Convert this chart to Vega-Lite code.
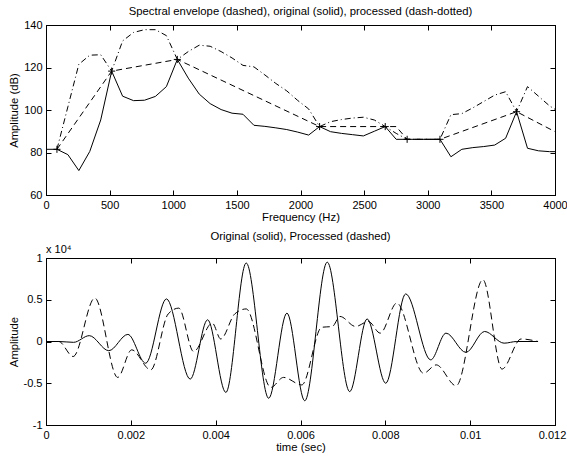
{
  "$schema": "https://vega.github.io/schema/vega-lite/v6.json",
  "background": "white",
  "padding": {"left": 7, "top": 5, "right": 0, "bottom": 3},
  "spacing": 7,
  "config": {
    "font": "Liberation Sans",
    "view": {"stroke": "black", "strokeWidth": 1},
    "axis": {
      "grid": false,
      "domainColor": "black",
      "tickColor": "black",
      "labelColor": "black",
      "titleColor": "black",
      "labelFont": "Liberation Sans",
      "titleFont": "Liberation Sans",
      "labelFontSize": 11,
      "titleFontSize": 11.3,
      "titleFontWeight": "normal",
      "tickSize": -5,
      "labelPadding": 9,
      "labelFlush": false,
      "labelOverlap": false
    },
    "title": {"font": "Liberation Sans", "fontSize": 11.3, "fontWeight": "normal", "color": "black", "offset": 2}
  },
  "datasets": {
    "orig": [
      {"f": 0, "db": 81.5}, {"f": 86, "db": 81.5}, {"f": 172, "db": 79}, {"f": 258, "db": 71.5},
      {"f": 344, "db": 80.5}, {"f": 430, "db": 95.3}, {"f": 516, "db": 118.3}, {"f": 602, "db": 106.5},
      {"f": 688, "db": 104.4}, {"f": 774, "db": 104.6}, {"f": 860, "db": 106.4}, {"f": 946, "db": 111},
      {"f": 1032, "db": 123.8}, {"f": 1118, "db": 115}, {"f": 1204, "db": 107.5}, {"f": 1290, "db": 103},
      {"f": 1376, "db": 100.2}, {"f": 1462, "db": 98.5}, {"f": 1548, "db": 98}, {"f": 1634, "db": 92.8},
      {"f": 1720, "db": 92.3}, {"f": 1806, "db": 91.6}, {"f": 1892, "db": 90.8}, {"f": 1978, "db": 89.6},
      {"f": 2064, "db": 88.2}, {"f": 2150, "db": 92.2}, {"f": 2236, "db": 89.8}, {"f": 2322, "db": 89},
      {"f": 2408, "db": 88.4}, {"f": 2494, "db": 87.8}, {"f": 2580, "db": 90}, {"f": 2666, "db": 92.2},
      {"f": 2752, "db": 86.2}, {"f": 2838, "db": 86.2}, {"f": 2924, "db": 86.2}, {"f": 3010, "db": 86.2},
      {"f": 3096, "db": 86.2}, {"f": 3182, "db": 78}, {"f": 3268, "db": 81.5}, {"f": 3354, "db": 82.3},
      {"f": 3440, "db": 82.8}, {"f": 3526, "db": 83.5}, {"f": 3612, "db": 86.7}, {"f": 3698, "db": 99.2},
      {"f": 3784, "db": 82}, {"f": 3870, "db": 80.8}, {"f": 3956, "db": 80.4}, {"f": 4000, "db": 80.4}
    ],
    "env": [
      {"f": 86, "db": 81.5}, {"f": 516, "db": 118.3}, {"f": 1032, "db": 123.8}, {"f": 2150, "db": 92.2},
      {"f": 2666, "db": 92.2}, {"f": 2752, "db": 92.2}, {"f": 2838, "db": 86.2}, {"f": 3096, "db": 86.2},
      {"f": 3698, "db": 99.2}, {"f": 4000, "db": 89.8}
    ],
    "proc": [
      {"f": 86, "db": 81.5}, {"f": 172, "db": 101.5}, {"f": 258, "db": 121.5}, {"f": 344, "db": 125.8},
      {"f": 430, "db": 126}, {"f": 516, "db": 118.3}, {"f": 602, "db": 132.5}, {"f": 688, "db": 136.5},
      {"f": 774, "db": 137.8}, {"f": 860, "db": 137.8}, {"f": 946, "db": 135}, {"f": 1032, "db": 123.8},
      {"f": 1118, "db": 127.5}, {"f": 1204, "db": 130.5}, {"f": 1290, "db": 130}, {"f": 1376, "db": 127.5},
      {"f": 1462, "db": 124.5}, {"f": 1548, "db": 121}, {"f": 1634, "db": 120.3}, {"f": 1720, "db": 116.5},
      {"f": 1806, "db": 112.5}, {"f": 1892, "db": 109}, {"f": 1978, "db": 104.5}, {"f": 2064, "db": 100.5},
      {"f": 2150, "db": 92.2}, {"f": 2236, "db": 94.5}, {"f": 2322, "db": 95.5}, {"f": 2408, "db": 96.2},
      {"f": 2494, "db": 96.6}, {"f": 2580, "db": 95.3}, {"f": 2666, "db": 92.2}, {"f": 2752, "db": 89},
      {"f": 2838, "db": 86.2}, {"f": 2924, "db": 86.2}, {"f": 3010, "db": 86.2}, {"f": 3096, "db": 86.2},
      {"f": 3182, "db": 97.8}, {"f": 3268, "db": 98.3}, {"f": 3354, "db": 101}, {"f": 3440, "db": 104},
      {"f": 3526, "db": 107}, {"f": 3612, "db": 108.6}, {"f": 3698, "db": 99.2}, {"f": 3784, "db": 111},
      {"f": 3870, "db": 106.5}, {"f": 3956, "db": 102}, {"f": 4000, "db": 100.3}
    ],
    "stars": [
      {"f": 86, "db": 81.5}, {"f": 516, "db": 118.3}, {"f": 1032, "db": 123.8}, {"f": 2150, "db": 92.2},
      {"f": 2666, "db": 92.2}, {"f": 2838, "db": 86.2}, {"f": 3096, "db": 86.2}, {"f": 3698, "db": 99.2}
    ],
    "wave_orig": [
      {"t": 0, "a": 0}, {"t": 0.0003, "a": 0}, {"t": 0.00065, "a": -0.01}, {"t": 0.00102, "a": 0.07},
      {"t": 0.00148, "a": -0.11}, {"t": 0.00193, "a": 0.085}, {"t": 0.00235, "a": -0.26}, {"t": 0.00284, "a": 0.51},
      {"t": 0.0034, "a": -0.45}, {"t": 0.00381, "a": 0.26}, {"t": 0.00424, "a": -0.61}, {"t": 0.00472, "a": 0.94},
      {"t": 0.00525, "a": -0.68}, {"t": 0.00568, "a": 0.34}, {"t": 0.0061, "a": -0.71}, {"t": 0.00663, "a": 0.95},
      {"t": 0.00716, "a": -0.6}, {"t": 0.00757, "a": 0.27}, {"t": 0.00801, "a": -0.5}, {"t": 0.00848, "a": 0.57},
      {"t": 0.00907, "a": -0.22}, {"t": 0.00943, "a": 0.1}, {"t": 0.0099, "a": -0.13}, {"t": 0.01034, "a": 0.12},
      {"t": 0.0108, "a": -0.02}, {"t": 0.0111, "a": 0}, {"t": 0.0116, "a": 0}
    ],
    "wave_proc": [
      {"t": 0, "a": 0}, {"t": 0.0003, "a": 0}, {"t": 0.00064, "a": -0.18}, {"t": 0.00115, "a": 0.52},
      {"t": 0.00169, "a": -0.43}, {"t": 0.00202, "a": -0.1}, {"t": 0.00247, "a": -0.34}, {"t": 0.00288, "a": 0.33},
      {"t": 0.00313, "a": 0.4}, {"t": 0.00348, "a": -0.12}, {"t": 0.00392, "a": 0.22}, {"t": 0.00412, "a": 0.03},
      {"t": 0.00445, "a": 0.33}, {"t": 0.00472, "a": 0.39}, {"t": 0.0053, "a": -0.55}, {"t": 0.0056, "a": -0.43},
      {"t": 0.00603, "a": -0.52}, {"t": 0.0065, "a": 0.17}, {"t": 0.00675, "a": 0.18}, {"t": 0.00693, "a": 0.3},
      {"t": 0.0073, "a": 0.18}, {"t": 0.0076, "a": 0.24}, {"t": 0.00788, "a": 0.1}, {"t": 0.00827, "a": 0.46},
      {"t": 0.0089, "a": -0.38}, {"t": 0.0092, "a": -0.28}, {"t": 0.00967, "a": -0.53}, {"t": 0.0103, "a": 0.74},
      {"t": 0.01075, "a": -0.33}, {"t": 0.0112, "a": 0.03}, {"t": 0.0116, "a": 0}
    ]
  },
  "vconcat": [
    {
      "width": 509,
      "height": 170,
      "title": "Spectral envelope (dashed), original (solid), processed (dash-dotted)",
      "resolve": {"axis": {"x": "independent", "y": "independent"}},
      "layer": [
        {
          "data": {"name": "orig"},
          "mark": {"type": "line", "color": "black", "strokeWidth": 1},
          "encoding": {
            "x": {"field": "f", "type": "quantitative", "scale": {"domain": [0, 4000], "nice": false, "zero": false},
                  "axis": {"title": "Frequency (Hz)", "values": [0, 500, 1000, 1500, 2000, 2500, 3000, 3500, 4000], "format": "d", "titlePadding": 1}},
            "y": {"field": "db", "type": "quantitative", "scale": {"domain": [60, 140], "nice": false, "zero": false},
                  "axis": {"title": "Amplitude (dB)", "values": [60, 80, 100, 120, 140], "format": "d", "titleX": -29, "titleBaseline": "alphabetic"}}
          }
        },
        {
          "data": {"name": "env"},
          "mark": {"type": "line", "color": "black", "strokeWidth": 1, "strokeDash": [6, 4]},
          "encoding": {
            "x": {"field": "f", "type": "quantitative", "scale": {"domain": [0, 4000], "nice": false, "zero": false},
                  "axis": {"orient": "top", "labels": false, "title": null, "values": [0, 500, 1000, 1500, 2000, 2500, 3000, 3500, 4000]}},
            "y": {"field": "db", "type": "quantitative", "scale": {"domain": [60, 140], "nice": false, "zero": false},
                  "axis": {"orient": "right", "labels": false, "title": null, "values": [60, 80, 100, 120, 140]}}
          }
        },
        {
          "data": {"name": "proc"},
          "mark": {"type": "line", "color": "black", "strokeWidth": 1, "strokeDash": [6, 3, 1, 3]},
          "encoding": {
            "x": {"field": "f", "type": "quantitative", "axis": null},
            "y": {"field": "db", "type": "quantitative", "axis": null}
          }
        },
        {
          "data": {"name": "stars"},
          "mark": {"type": "point", "filled": false, "stroke": "black", "strokeWidth": 1, "size": 50, "opacity": 1,
                   "shape": "M-1,0L1,0M0,-1L0,1"},
          "encoding": {
            "x": {"field": "f", "type": "quantitative", "axis": null},
            "y": {"field": "db", "type": "quantitative", "axis": null}
          }
        }
      ]
    },
    {
      "width": 509,
      "height": 167,
      "title": "Original (solid), Processed (dashed)",
      "resolve": {"axis": {"x": "independent", "y": "independent"}},
      "layer": [
        {
          "data": {"name": "wave_orig"},
          "mark": {"type": "line", "color": "black", "strokeWidth": 1, "interpolate": "monotone"},
          "encoding": {
            "x": {"field": "t", "type": "quantitative", "scale": {"domain": [0, 0.012], "nice": false, "zero": false},
                  "axis": {"title": "time (sec)", "values": [0, 0.002, 0.004, 0.006, 0.008, 0.01, 0.012], "format": "~g", "titlePadding": 1,
                           "labelOffset": {"condition": {"test": "datum.value > 0.0115", "value": -3}, "value": 0}}},
            "y": {"field": "a", "type": "quantitative", "scale": {"domain": [-1, 1], "nice": false, "zero": false},
                  "axis": {"title": "Amplitude", "values": [-1, -0.5, 0, 0.5, 1], "format": "~g",
                           "labelExpr": "replace(datum.label, '−', '-')", "titleX": -29, "titleBaseline": "alphabetic"}}
          }
        },
        {
          "data": {"name": "wave_proc"},
          "mark": {"type": "line", "color": "black", "strokeWidth": 1, "interpolate": "monotone", "strokeDash": [7, 4]},
          "encoding": {
            "x": {"field": "t", "type": "quantitative", "scale": {"domain": [0, 0.012], "nice": false, "zero": false},
                  "axis": {"orient": "top", "labels": false, "title": null, "values": [0, 0.002, 0.004, 0.006, 0.008, 0.01, 0.012]}},
            "y": {"field": "a", "type": "quantitative", "scale": {"domain": [-1, 1], "nice": false, "zero": false},
                  "axis": {"orient": "right", "labels": false, "title": null, "values": [-1, -0.5, 0, 0.5, 1]}}
          }
        },
        {
          "data": {"values": [{}]},
          "mark": {"type": "text", "text": "x 10⁴", "align": "left", "baseline": "alphabetic", "dy": -5, "fontSize": 11, "color": "black", "font": "Liberation Sans"},
          "encoding": {
            "x": {"datum": 0, "type": "quantitative", "axis": null},
            "y": {"datum": 1, "type": "quantitative", "axis": null}
          }
        }
      ]
    }
  ]
}
